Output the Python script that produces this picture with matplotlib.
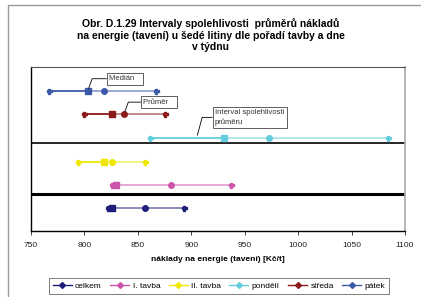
import matplotlib.pyplot as plt
import matplotlib.colors as mcolors
from matplotlib.patches import Rectangle
import numpy as np

plt.rcParams['font.family'] = ['Liberation Sans', 'DejaVu Sans']

# data
series = ['celkem', 'I. tavba', 'II. tavba', 'pondělí', 'středa', 'pátek']
rows = [0.98, 1.96, 2.94, 3.97, 4.99, 5.97]
lower = [822, 826, 794, 861, 800, 767]
median = [826, 830, 818, 931, 826, 803]
mean = [857, 881, 826, 973, 837, 818]
upper = [893, 937, 857, 1084, 875, 867]
colors = ['#1f1f7a', '#cc55aa', '#f0e800', '#66ccdd', '#8b1a1a', '#3a5aa8']

def lighter(c, f=0.45):
    r, g, b = mcolors.to_rgb(c)
    return (r + (1 - r) * f, g + (1 - g) * f, b + (1 - b) * f)

fig = plt.figure(figsize=(4.21, 2.97), dpi=100)
fig.patches.append(Rectangle((8 / 421, -0.05), 1.2, 1 - 5 / 297 + 0.05,
                             transform=fig.transFigure, fill=False,
                             edgecolor='#999999', linewidth=1.0))
ax = fig.add_axes([31 / 421, 66 / 297, 374 / 421, 164 / 297])

for i, name in enumerate(series):
    y = rows[i]
    c = colors[i]
    ax.plot([lower[i], median[i]], [y, y], color=c, lw=1.3, zorder=2)
    ax.plot([median[i], upper[i]], [y, y], color=lighter(c), lw=1.3, zorder=2)
    ax.plot([lower[i], upper[i]], [y, y], ls='none', marker='P', ms=3.6, color=c,
            zorder=3)
    ax.plot(median[i], y, ls='none', marker='s', ms=4, color=c, zorder=3)
    ax.plot(mean[i], y, ls='none', marker='o', ms=4, color=c, zorder=3)
    # legend proxy
    ax.plot([], [], color=c, marker='D', ms=3, lw=1, label=name)

ax.axhline(1.6, color='black', lw=2.2, zorder=1)
ax.axhline(3.75, color='black', lw=1.2, zorder=1)

ax.set_xlim(750, 1100)
ax.set_ylim(0, 7)
ax.set_xticks(np.arange(750, 1101, 50))
ax.set_yticks([])
ax.tick_params(axis='x', labelsize=6, length=3, width=0.6, colors='#222222',
               pad=5)
for s in ['left', 'bottom']:
    ax.spines[s].set_color('black')
    ax.spines[s].set_linewidth(1.0)
ax.spines['top'].set_color('#555555')
ax.spines['top'].set_linewidth(0.8)
ax.spines['right'].set_color('#aaaaaa')
ax.spines['right'].set_linewidth(1.2)

ax.set_xlabel('náklady na energie (tavení) [Kč/t]', fontsize=6, fontweight='bold',
              labelpad=5)

fig.text(0.5, 0.94, 'Obr. D.1.29 Intervaly spolehlivosti  průměrů nákladů\n'
         'na energie (tavení) u šedé litiny dle pořadí tavby a dne\nv týdnu',
         ha='center', va='top', fontsize=7.5, fontweight='bold',
         linespacing=1.22)

box = dict(boxstyle='square,pad=0.3', fc='white', ec='#444444', lw=0.6)
arrow = dict(arrowstyle='-', color='black', lw=0.6, shrinkA=0, shrinkB=2,
             connectionstyle='angle,angleA=0,angleB=70,rad=0')
ax.annotate('Medián   ', xy=(median[5], rows[5]), xytext=(823, 6.5),
            fontsize=5.5, color='#333333', bbox=box, va='center',
            arrowprops=arrow)
ax.annotate('Průměr   ', xy=(mean[4], rows[4]), xytext=(855, 5.5),
            fontsize=5.5, color='#333333', bbox=box, va='center',
            arrowprops=arrow)
ax.annotate('Interval spolehlivosti\nprůměru', xy=(905, rows[3]),
            xytext=(922, 4.85), fontsize=5.5, color='#333333', bbox=box,
            va='center', linespacing=1.3,
            arrowprops=dict(arrow, connectionstyle='angle,angleA=0,angleB=75,rad=0'))

leg = fig.legend(loc='center', bbox_to_anchor=(219 / 421, 1 - 286 / 297),
                 ncol=6, fontsize=6, frameon=True, fancybox=False,
                 edgecolor='#444444', handlelength=2.3, handletextpad=0.4,
                 columnspacing=1.0, borderpad=0.45)
leg.get_frame().set_linewidth(0.6)

fig.savefig('out.png', dpi=100)
